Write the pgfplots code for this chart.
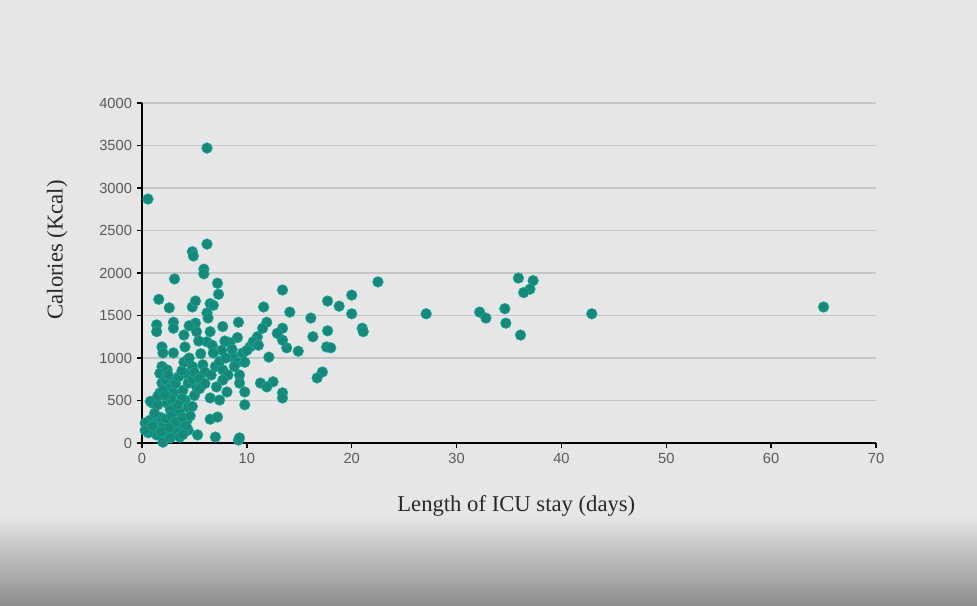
\documentclass[border=0pt]{standalone}
\usepackage{pgfplots}
\pgfplotsset{compat=1.18}
\usepackage{fontspec}
\setmainfont{Liberation Serif}
\newfontfamily\tickfont{Liberation Sans}
\usetikzlibrary{backgrounds}
\definecolor{dotcol}{RGB}{24,136,120}
\definecolor{gridcol}{RGB}{198,198,198}
\definecolor{bgcol}{RGB}{230,230,230}
\definecolor{tickcol}{RGB}{90,90,90}
\definecolor{labcol}{RGB}{40,40,40}

\pgfplotstableread{
x y
0.57 2870
6.2 3470
4.8 2250
4.9 2200
6.2 2340
5.9 2045
5.9 1990
3.1 1930
7.2 1880
7.3 1750
1.6 1690
2.6 1590
4.8 1600
5.1 1670
6.5 1640
6.8 1620
6.2 1530
6.3 1470
9.2 1420
3.0 1420
3.0 1350
1.4 1390
1.4 1310
5.1 1410
5.2 1310
6.5 1310
7.7 1370
6.2 1190
6.7 1150
9.1 1240
8.4 1180
7.6 1090
6.8 1060
4.1 1130
1.9 1130
2.0 1060
3.0 1060
10.3 1130
10.9 1170
9.6 1060
8.7 1010
9.1 950
9.8 950
1.9 900
1.7 820
2.4 860
4.3 975
4.8 900
4.1 820
5.8 920
6.0 835
7.0 900
7.7 860
8.2 800
7.7 740
7.1 660
8.1 600
9.3 800
9.3 705
9.8 600
9.8 450
1.9 705
2.7 740
2.4 650
1.7 590
3.0 590
3.9 620
4.4 705
5.2 660
5.7 680
4.1 505
4.4 420
1.0 470
0.8 490
1.5 450
2.4 470
2.7 390
3.6 365
6.5 530
7.4 505
6.5 280
7.2 305
0.8 270
1.4 235
0.8 175
2.0 190
3.0 235
3.6 190
4.3 270
4.4 150
3.3 120
2.4 120
1.4 95
0.6 120
2.0 10
2.7 60
3.6 70
5.3 95
7.0 70
9.2 35
0.3 235
0.3 150
1.5 550
2.0 620
2.2 750
2.5 800
3.2 700
3.5 780
3.8 850
4.0 950
4.5 1000
4.8 750
5.0 830
5.5 760
3.8 520
3.4 450
2.8 520
2.2 560
1.8 300
2.3 280
2.8 320
3.2 250
3.9 300
4.2 200
4.6 320
3.9 100
2.6 180
1.2 350
1.0 200
1.8 130
4.8 430
5.0 560
5.5 640
6.0 700
6.6 800
7.4 960
8.0 1000
8.6 1100
8.8 900
7.9 1200
5.6 1050
5.4 1200
4.5 1380
4.0 1270
11.0 1250
11.6 1600
13.4 1800
22.5 1895
17.7 1670
18.8 1610
20.0 1740
14.1 1540
16.1 1470
20.0 1520
21.0 1350
21.1 1310
17.7 1320
16.3 1250
17.6 1130
18.0 1120
14.9 1080
13.8 1120
13.4 1210
13.4 1350
12.9 1290
11.9 1420
11.5 1350
12.1 1010
17.2 835
16.7 765
11.3 705
12.5 720
11.9 660
13.4 590
13.4 530
10.6 1190
11.1 1150
10.0 1090
9.3 60
35.9 1940
37.3 1910
37.0 1810
36.4 1770
27.1 1520
32.2 1540
32.8 1470
34.6 1580
34.7 1410
36.1 1270
42.9 1520
65.0 1600
}\caldata

\begin{document}
\begin{tikzpicture}[x=1pt,y=1pt]
\begin{axis}[
    at={(0pt,0pt)}, anchor=south west,
    scale only axis,
    width=550.5pt, height=255pt,
    xmin=0, xmax=70, ymin=0, ymax=4000,
    xtick={0,10,...,70},
    ytick={0,500,...,4000},
    axis lines=left,
    axis line style={black, line width=1.4pt, -},
    tick align=outside,
    major tick length=4pt,
    tick style={black, line width=1pt},
    ymajorgrids,
    grid style={gridcol, line width=1.2pt},
    clip=false,
    /pgf/number format/1000 sep={},
    /pgf/number format/assume math mode=true,
    ticklabel style={font=\tickfont\fontsize{11}{12}\selectfont, text=tickcol},
    xlabel={Length of ICU stay (days)},
    ylabel={Calories (Kcal)},
    label style={font=\fontsize{17}{19}\selectfont, text=labcol},
    xlabel style={at={(axis description cs:0.51,-0.14)}, anchor=north},
    ylabel style={at={(axis description cs:-0.095,0.568)}, anchor=south},
]
\addplot[only marks, mark=*, mark size=4pt,
    mark options={fill=dotcol, draw=dotcol!70!cyan, line width=0.4pt}]
    table[x=x, y=y] {\caldata};
\end{axis}
\begin{scope}[on background layer]
\fill[bgcol] (-106.5pt,-122.25pt) rectangle (626.25pt,332.25pt);
\shade[top color=bgcol, bottom color=black!45] (-106.5pt,-122.25pt) rectangle (626.25pt,-54pt);
\end{scope}
\end{tikzpicture}
\end{document}
